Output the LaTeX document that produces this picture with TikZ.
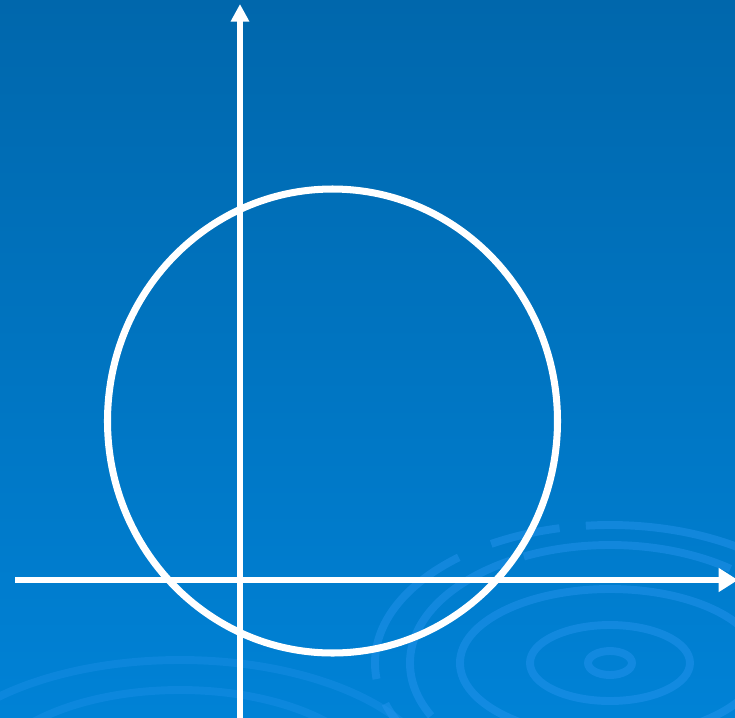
\documentclass[tikz,border=0pt]{standalone}
\usetikzlibrary{arrows.meta,calc}
\definecolor{bgtop}{RGB}{0,103,172}
\definecolor{bgbottom}{RGB}{0,130,214}
\definecolor{ripple}{RGB}{40,150,240}

\begin{document}
\begin{tikzpicture}[x=0.02cm, y=-0.02cm,
axis/.style={white, line width=3.2pt, -{Triangle[length=10pt, width=10pt]}},
xaxis/.style={axis, -{Triangle[length=11pt, width=13pt]}},
ring/.style={ripple, line width=4.5pt, opacity=0.45},
curve/.style={white, line width=4pt}]
\useasboundingbox (0,0) rectangle (735,718);
% background
\shade[top color=bgtop, bottom color=bgbottom] (0,0) rectangle (735,718);
\begin{scope}
\clip (0,0) rectangle (735,718);
\foreach \r/\q in {22/12, 80/38, 150/74} {
  \draw[ring] (610,663) ellipse [x radius=\r, y radius=\q];
}
\draw[ring, dash pattern=on 120pt off 8pt] (610,663) ellipse [x radius=200, y radius=118];
\draw[ring, dash pattern=on 90pt off 20pt on 40pt off 15pt] (610,663) ellipse [x radius=235, y radius=138];
\draw[ring, opacity=0.3] (180,790) ellipse [x radius=260, y radius=130];
\draw[ring, opacity=0.3] (180,790) ellipse [x radius=200, y radius=100];
\end{scope}
% axes
\coordinate (xs) at (15,580);
\coordinate (xe) at (738,580);
\coordinate (ys) at (240,718);
\coordinate (ye) at (240,4);
\coordinate (o) at (332.5,421);
\draw[xaxis] (xs) -- (xe);
\draw[axis] (ys) -- (ye);
% circle
\draw[curve] (o) ellipse [x radius=225, y radius=232];
\end{tikzpicture}
\end{document}
